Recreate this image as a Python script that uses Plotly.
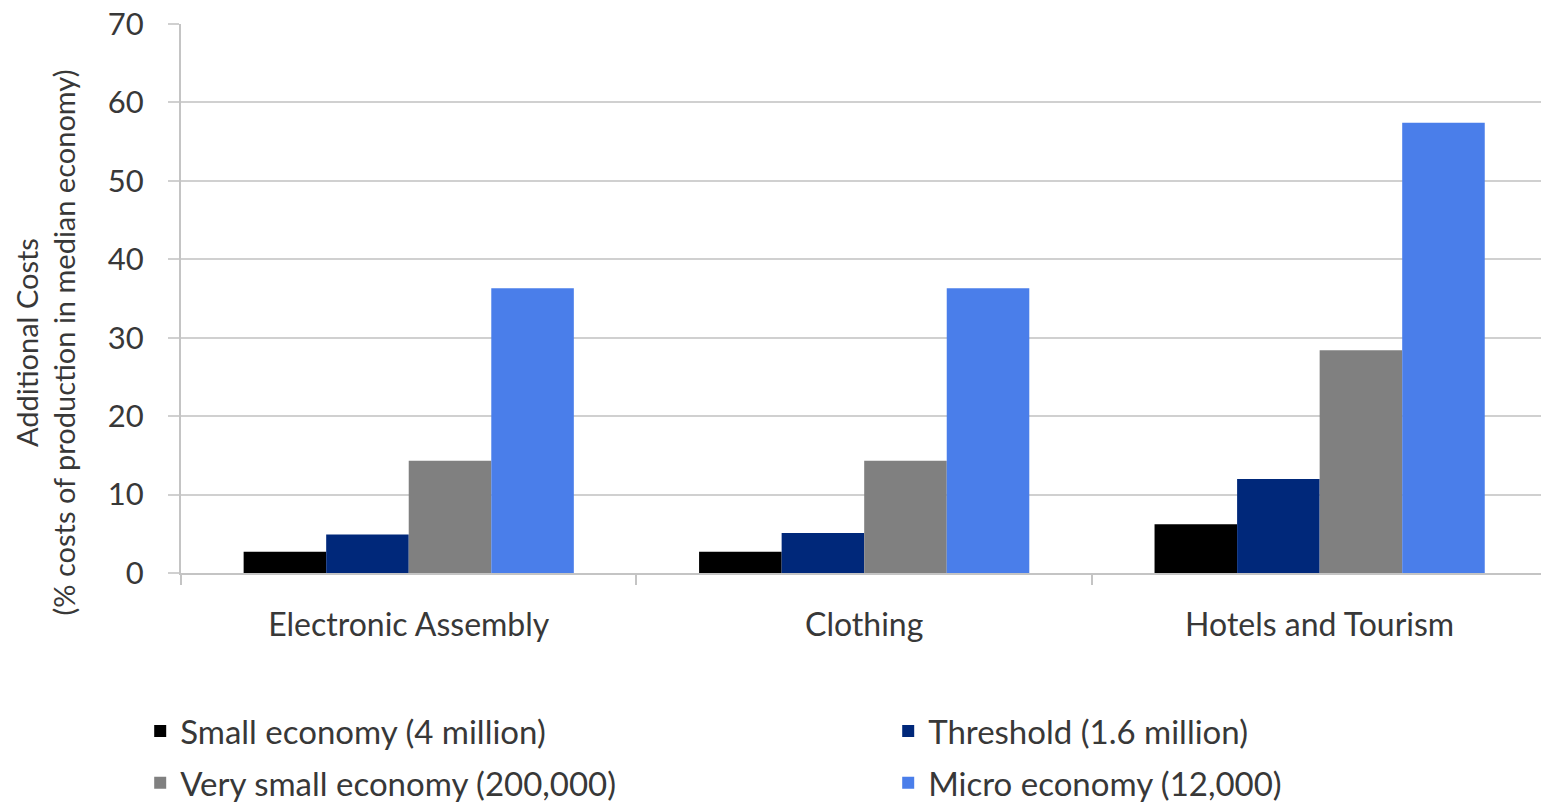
import plotly.graph_objects as go

# Sectors along the x axis
categories = ["Electronic Assembly", "Clothing", "Hotels and Tourism"]

# Additional costs (% of production costs in the median economy) by economy size
small_economy = [2.7, 2.7, 6.2]
threshold = [4.9, 5.1, 12.0]
very_small_economy = [14.3, 14.3, 28.4]
micro_economy = [36.3, 36.3, 57.4]

series_names = [
    "Small economy (4 million)",
    "Threshold (1.6 million)",
    "Very small economy (200,000)",
    "Micro economy (12,000)",
]
series_values = [small_economy, threshold, very_small_economy, micro_economy]
series_colors = ["#000000", "#00287a", "#808080", "#4a7eea"]
# legend layout: two columns, two entries each
series_legends = ["legend", "legend2", "legend", "legend2"]

y_ticks = [0, 10, 20, 30, 40, 50, 60, 70]
y_title = "Additional Costs<br>(% costs of production in median economy)"

FONT = "Lato, 'Open Sans', sans-serif"
TEXT = "#383838"
GRID = "#d0d0d0"
AXIS = "#c4c4c4"

fig = go.Figure()
for name, vals, color, leg in zip(series_names, series_values, series_colors, series_legends):
    fig.add_trace(go.Bar(
        x=categories, y=vals, name=name, legend=leg, legendgroup=name,
        marker=dict(color=color, line=dict(width=0)),
    ))

legend_common = dict(
    orientation="v", xref="paper", xanchor="left",
    yref="container", y=1 - 757 / 805, yanchor="middle",
    traceorder="grouped", tracegroupgap=6,
    font=dict(size=33, family=FONT, color=TEXT),
    itemwidth=30, bgcolor="rgba(0,0,0,0)",
)

fig.update_layout(
    width=1541, height=805,
    margin=dict(l=181, r=0, t=24, b=232),
    paper_bgcolor="white", plot_bgcolor="white",
    font=dict(family=FONT, color=TEXT, size=22),
    barmode="group", bargap=0.275, bargroupgap=0,
    showlegend=True,
    legend=dict(legend_common, x=-0.03),
    legend2=dict(legend_common, x=-0.03 + 748 / 1360),
)

fig.update_xaxes(
    type="category", range=[-0.5, 2.486],
    showline=True, linecolor=AXIS, linewidth=2,
    ticks="outside", tickson="boundaries", ticklen=10, tickcolor=AXIS, tickwidth=2,
    ticklabelstandoff=23,
    tickfont=dict(size=32, family=FONT, color=TEXT),
    showgrid=False,
)

fig.update_yaxes(
    range=[0, 70], tickvals=y_ticks,
    showline=True, linecolor=AXIS, linewidth=2,
    ticks="outside", ticklen=11, tickcolor=GRID, tickwidth=2,
    ticklabelstandoff=18,
    tickfont=dict(size=31, family=FONT, color=TEXT),
    showgrid=True, gridcolor=GRID, gridwidth=2,
    zeroline=False,
)

# Two-line y-axis title
fig.add_annotation(
    text=y_title, textangle=-90, showarrow=False,
    xref="paper", x=0, xanchor="right", xshift=-97,
    yref="paper", y=0.419, yanchor="middle",
    font=dict(size=29, family=FONT, color=TEXT), align="center",
)

fig.write_html("out.html")
